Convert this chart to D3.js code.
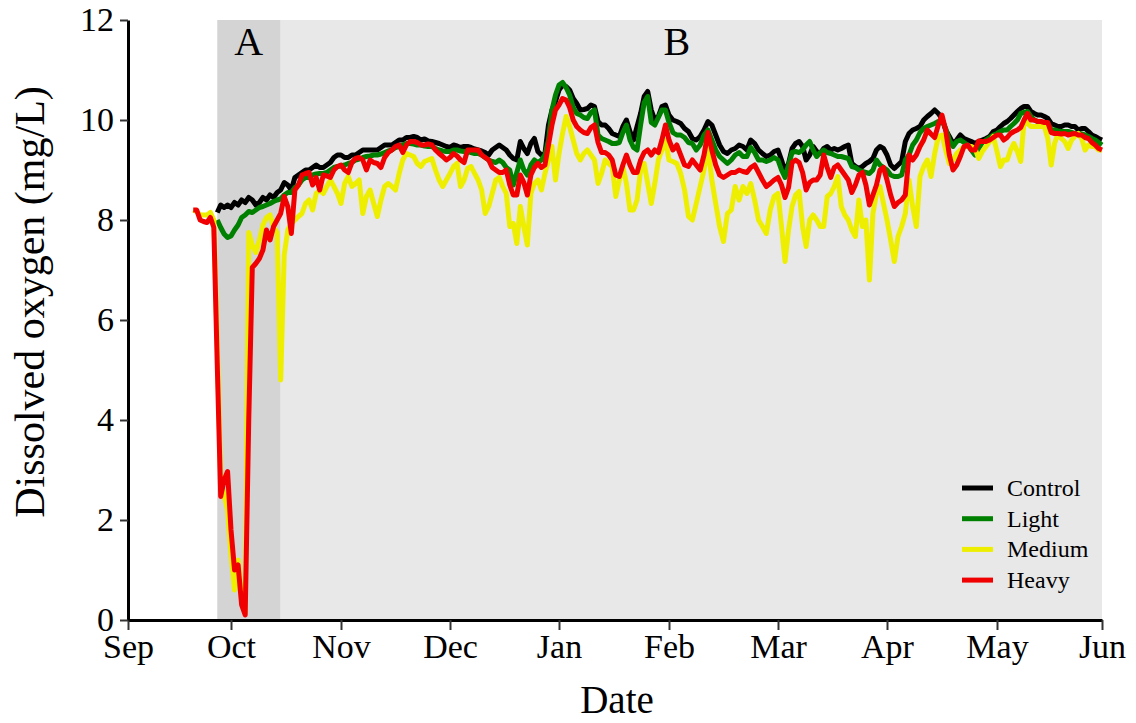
<!DOCTYPE html>
<meta charset="utf-8">
<body style="margin:0;background:#fff">

<script src="https://d3js.org/d3.v7.min.js"></script>

<script>

// daily readings, 20 Sep 2017 .. 1 Jun 2018
var firstDay = new Date(2017, 8, 20)
var lastDay = new Date(2018, 5, 1)
var days = d3.timeDay.range(firstDay, d3.timeDay.offset(lastDay, 1))

// month ticks on the x axis
var months = d3.timeMonth.range(new Date(2017, 8, 1), new Date(2018, 5, 2))

// shaded phases
var phaseLabels = ['A', 'B']
var phaseStart = [new Date(2017, 8, 27), new Date(2017, 9, 15)]
var phaseEnd = [new Date(2017, 9, 15), new Date(2018, 5, 1)]
var phaseLabelAt = [new Date(2017, 9, 6), new Date(2018, 1, 3)]

var seriesNames = ['Control', 'Light', 'Medium', 'Heavy']

var control = [
  null,null,null,null,null,null,null,8.15,8.3,8.25,8.3,
  8.25,8.35,8.3,8.4,8.35,8.45,8.4,8.3,8.35,8.45,8.4,8.5,8.45,8.55,8.6,8.75,8.7,8.6,8.85,8.9,8.95,9.0,9.0,9.05,9.1,9.05,9.05,9.1,9.15,9.25,9.3,
  9.3,9.25,9.25,9.3,9.3,9.35,9.4,9.4,9.4,9.4,9.4,9.45,9.5,9.5,9.5,9.55,9.6,9.6,9.65,9.65,9.67,9.65,9.6,9.62,9.58,9.57,9.55,9.53,9.5,9.47,
  9.45,9.5,9.48,9.45,9.47,9.47,9.45,9.42,9.4,9.38,9.35,9.3,9.4,9.45,9.5,9.45,9.4,9.3,9.23,9.2,9.57,9.43,9.33,9.53,9.63,9.37,9.3,9.33,9.9,10.2,10.37,
  10.6,10.7,10.67,10.6,10.43,10.33,10.2,10.21,10.23,10.3,10.27,9.97,9.9,9.9,9.83,9.73,9.7,9.67,9.87,10.0,9.77,9.6,9.87,10.13,10.47,10.57,10.2,10.0,10.07,10.27,10.3,
  10.1,10.0,9.97,9.93,9.83,9.77,9.63,9.6,9.67,9.8,9.97,9.9,9.7,9.5,9.37,9.33,9.4,9.43,9.5,9.47,9.4,9.6,9.53,9.4,9.33,9.27,9.3,9.37,
  9.4,9.2,8.97,9.13,9.43,9.53,9.57,9.47,9.2,9.3,9.47,9.37,9.33,9.43,9.47,9.4,9.43,9.4,9.43,9.47,9.5,9.13,9.07,9.03,9.07,9.13,9.17,9.23,9.4,9.47,9.43,
  9.3,9.1,9.03,9.1,9.17,9.57,9.73,9.8,9.83,9.87,10.0,10.07,10.13,10.2,10.13,10.03,9.8,9.67,9.53,9.6,9.7,9.63,9.6,9.57,9.53,9.57,9.6,9.63,9.67,9.77,
  9.8,9.87,9.93,9.97,10.03,10.1,10.17,10.23,10.27,10.27,10.17,10.13,10.1,10.1,10.07,10.03,9.93,9.9,9.87,9.87,9.9,9.9,9.87,9.87,9.8,9.83,9.83,9.77,9.7,9.67,9.63,
  9.6
]

var light = [
  null,null,null,null,null,null,null,8.0,7.85,7.72,7.65,
  7.68,7.8,7.9,8.05,8.1,8.17,8.15,8.2,8.25,8.27,8.3,8.33,8.37,8.4,8.42,8.5,8.55,8.55,8.65,8.7,8.8,8.85,8.85,8.9,8.92,8.93,8.93,8.95,9.0,9.05,9.07,
  9.08,9.1,9.13,9.15,9.2,9.22,9.25,9.27,9.28,9.3,9.3,9.32,9.35,9.38,9.4,9.45,9.47,9.5,9.53,9.53,9.52,9.5,9.5,9.48,9.47,9.47,9.43,9.4,9.38,9.37,
  9.37,9.4,9.4,9.38,9.37,9.37,9.35,9.33,9.33,9.3,9.25,9.2,9.17,9.15,9.2,9.15,9.05,9.0,8.7,8.95,9.2,9.0,8.9,9.1,9.2,9.15,9.2,9.3,9.6,10.2,10.5,
  10.7,10.75,10.65,10.5,10.25,10.13,10.1,10.05,10.03,10.15,10.2,9.7,9.63,9.6,9.57,9.53,9.53,9.55,9.75,9.9,9.6,9.45,9.4,9.9,10.35,10.47,9.95,9.9,10.05,10.2,10.2,
  9.95,9.75,9.7,9.7,9.65,9.55,9.53,9.4,9.5,9.7,9.8,9.6,9.4,9.27,9.2,9.13,9.2,9.3,9.35,9.27,9.27,9.45,9.35,9.2,9.2,9.17,9.2,9.25,
  9.2,9.0,8.85,9.1,9.35,9.37,9.35,9.4,9.5,9.57,9.4,9.27,9.35,9.4,9.35,9.33,9.3,9.27,9.27,9.25,9.23,9.07,9.05,9.0,8.97,8.95,8.93,9.0,9.2,9.1,9.05,
  9.0,8.9,8.87,8.87,8.9,9.2,9.3,9.5,9.6,9.75,9.83,9.87,9.9,9.93,9.97,10.0,9.83,9.6,9.47,9.57,9.6,9.55,9.5,9.4,9.3,9.43,9.55,9.6,9.65,9.7,
  9.73,9.77,9.8,9.8,9.87,9.93,10.0,10.13,10.15,10.17,10.07,10.0,9.97,9.95,9.95,9.93,9.8,9.8,9.78,9.77,9.77,9.77,9.75,9.73,9.73,9.72,9.7,9.67,9.63,9.6,9.55,
  9.5
]

var medium = [
  8.2,8.17,8.1,8.1,8.1,8.15,8.0,5.5,2.8,2.5,2.2,
  1.3,0.6,1.2,0.4,0.15,7.75,7.5,7.35,7.6,7.9,8.05,8.1,7.85,7.75,4.8,7.3,7.8,7.93,8.0,8.07,8.13,8.33,8.4,8.2,8.53,8.6,8.53,8.67,8.8,8.67,8.53,
  8.33,8.73,8.87,8.67,8.73,8.8,8.13,8.47,8.6,8.33,8.07,8.4,8.67,8.73,8.67,8.6,8.93,9.2,9.33,9.3,9.27,9.13,9.07,9.17,9.2,9.23,9.0,8.8,8.67,8.8,
  8.93,9.07,9.13,8.67,8.8,9.03,9.07,8.93,8.8,8.6,8.13,8.27,8.53,8.8,8.85,8.67,8.53,7.87,7.93,7.53,8.27,7.87,7.5,8.53,8.73,8.8,8.6,8.93,9.2,9.47,8.8,
  9.33,9.73,10.07,9.87,9.6,9.33,9.2,9.33,9.4,9.3,9.2,8.73,8.93,9.2,9.13,9.07,8.47,8.8,9.07,8.73,8.2,8.2,8.4,9.0,9.13,8.73,8.33,8.73,9.2,9.4,9.6,
  9.2,9.17,9.13,8.93,8.6,8.07,8.0,8.33,8.67,9.0,9.47,8.8,8.33,7.87,7.57,8.13,8.2,8.67,8.4,8.67,8.53,8.73,8.4,8.0,7.87,7.73,8.2,8.47,
  8.53,7.87,7.17,7.8,8.27,8.5,8.57,7.87,7.47,8.0,8.1,8.0,7.87,7.87,8.47,8.53,8.67,8.87,8.27,8.1,8.0,7.8,7.67,8.4,7.87,8.0,6.8,8.13,8.53,8.67,8.33,
  8.0,7.6,7.17,7.67,7.87,8.13,8.8,8.27,7.87,8.87,9.07,9.2,8.87,9.33,9.67,9.7,9.4,9.13,9.2,9.33,9.4,9.47,9.47,9.47,9.43,9.23,9.37,9.47,9.57,9.67,
  9.37,9.07,9.2,9.2,9.4,9.53,9.37,9.17,10.0,9.93,9.87,9.87,9.87,9.87,9.87,9.63,9.1,9.53,9.73,9.63,9.57,9.43,9.6,9.67,9.73,9.63,9.4,9.5,9.47,9.47,9.4,
  9.4
]

var heavy = [
  8.2,8.2,8.0,7.97,7.95,8.05,7.85,5.1,2.47,2.8,2.97,
  1.8,1.0,1.1,0.3,0.1,4.0,7.05,7.13,7.23,7.4,7.8,7.6,7.87,8.0,8.13,8.47,8.27,7.73,8.6,8.7,8.9,8.93,8.95,8.7,8.85,8.6,8.9,8.88,8.85,9.0,9.07,
  9.1,9.0,8.95,9.15,9.23,9.25,9.2,9.0,9.2,9.15,9.13,9.05,9.25,9.35,9.4,9.47,9.5,9.35,9.5,9.57,9.57,9.55,9.5,9.5,9.52,9.5,9.4,9.33,9.27,9.2,
  9.25,9.33,9.28,9.2,9.15,9.4,9.4,9.4,9.4,9.3,9.25,9.2,9.05,9.0,8.95,8.95,9.0,8.7,8.5,8.5,8.9,8.75,8.5,8.9,9.05,9.13,9.05,9.1,9.5,9.9,10.2,
  10.3,10.43,10.4,10.25,10.0,9.87,9.8,9.75,9.73,9.85,9.9,9.55,9.35,9.35,9.3,9.2,8.9,8.87,9.1,9.3,9.1,8.95,8.95,9.2,9.35,9.4,9.3,9.4,9.35,9.6,9.9,
  9.6,9.4,9.5,9.3,9.1,9.07,9.2,9.1,9.0,9.3,9.75,9.4,9.1,8.9,8.85,8.9,8.95,8.95,9.0,8.97,8.95,9.05,9.1,8.95,8.8,8.67,8.73,8.8,
  8.85,8.7,8.45,8.65,9.15,9.2,9.15,8.95,8.6,8.75,8.8,8.8,8.9,9.3,9.05,8.85,9.05,9.1,9.0,8.9,8.8,8.55,8.7,8.9,8.95,8.7,8.3,8.5,8.7,9.0,9.05,
  8.8,8.5,8.27,8.35,8.4,8.5,9.3,9.2,9.3,9.47,9.6,9.8,9.72,9.65,9.9,10.1,9.8,9.3,9.0,9.1,9.27,9.47,9.5,9.4,9.4,9.58,9.57,9.57,9.6,9.65,
  9.7,9.7,9.6,9.65,9.73,9.77,9.8,9.85,10.0,10.13,10.0,10.0,9.97,9.97,9.95,9.95,9.75,9.73,9.73,9.72,9.73,9.7,9.72,9.73,9.7,9.7,9.65,9.63,9.55,9.5,9.43,
  9.4
]

var seriesValues = [control, light, medium, heavy]
var seriesColors = ['#000000', '#008000', '#eeee00', '#f00000']

var W = 1136, H = 723
var font = 'Liberation Serif, Times New Roman, serif'

// month ticks are not spaced by day count in the original, so pin each one
var monthX = [128, 231, 341, 450, 559, 669, 778, 887, 997, 1102]
var x = d3.scaleTime().domain(months).range(monthX)
var y = d3.scaleLinear().domain([0, 12]).range([620, 20])

var svg = d3.select('body').append('svg')
    .attr('width', W)
    .attr('height', H)

// phase backgrounds
var phaseFill = ['#d4d4d4', '#e8e8e8']
svg.selectAll('.phase').data(phaseLabels).enter()
  .append('rect')
    .attr('class', 'phase')
    .attr('x', (d, i) => x(phaseStart[i]))
    .attr('width', (d, i) => x(phaseEnd[i]) - x(phaseStart[i]))
    .attr('y', y(12))
    .attr('height', y(0) - y(12))
    .attr('fill', (d, i) => phaseFill[i])

svg.selectAll('.phase-label').data(phaseLabels).enter()
  .append('text')
    .attr('x', (d, i) => x(phaseLabelAt[i]))
    .attr('y', 55)
    .attr('text-anchor', 'middle')
    .attr('font-family', font)
    .attr('font-size', 40)
    .text(d => d)

// lines
var line = d3.line()
    .defined(v => v != null)
    .x((v, i) => x(days[i]))
    .y(v => y(v))

seriesValues.forEach((vals, k) => {
  svg.append('path')
    .datum(vals)
    .attr('d', line)
    .attr('fill', 'none')
    .attr('stroke', seriesColors[k])
    .attr('stroke-width', 5)
    .attr('stroke-linejoin', 'round')
})

// axes
var xAxis = svg.append('g')
    .attr('transform', `translate(0,${y(0)})`)
    .call(d3.axisBottom(x).tickValues(months).tickFormat(d3.timeFormat('%b'))
      .tickSize(10).tickSizeOuter(0).tickPadding(4))
xAxis.select('.domain').attr('stroke', '#000').attr('stroke-width', 3)
xAxis.selectAll('.tick line').attr('stroke', '#333').attr('stroke-width', 2)
xAxis.selectAll('text').attr('font-family', font).attr('font-size', 34).attr('fill', '#000')

var yAxis = svg.append('g')
    .attr('transform', `translate(${x(months[0])},0)`)
    .call(d3.axisLeft(y).tickValues([0, 2, 4, 6, 8, 10, 12]).tickSize(8).tickSizeOuter(0).tickPadding(6))
yAxis.select('.domain').attr('stroke', '#000').attr('stroke-width', 3)
yAxis.selectAll('.tick line').attr('stroke', '#333').attr('stroke-width', 2)
yAxis.selectAll('text').attr('font-family', font).attr('font-size', 34).attr('fill', '#000')

svg.append('text')
    .attr('x', 617)
    .attr('y', 713)
    .attr('text-anchor', 'middle')
    .attr('font-family', font)
    .attr('font-size', 39)
    .text('Date')

svg.append('text')
    .attr('transform', 'translate(44,302) rotate(-90)')
    .attr('text-anchor', 'middle')
    .attr('font-family', font)
    .attr('font-size', 42)
    .text('Dissolved oxygen (mg/L)')

// legend
var legend = svg.append('g').attr('transform', 'translate(962,488)')
seriesNames.forEach((name, k) => {
  var row = legend.append('g').attr('transform', `translate(0,${k * 30.7})`)
  row.append('line')
    .attr('x1', 0).attr('x2', 31)
    .attr('stroke', seriesColors[k])
    .attr('stroke-width', 5)
  row.append('text')
    .attr('x', 45)
    .attr('y', 8)
    .attr('font-family', font)
    .attr('font-size', 24)
    .text(name)
})

</script>
</body>
</html>
